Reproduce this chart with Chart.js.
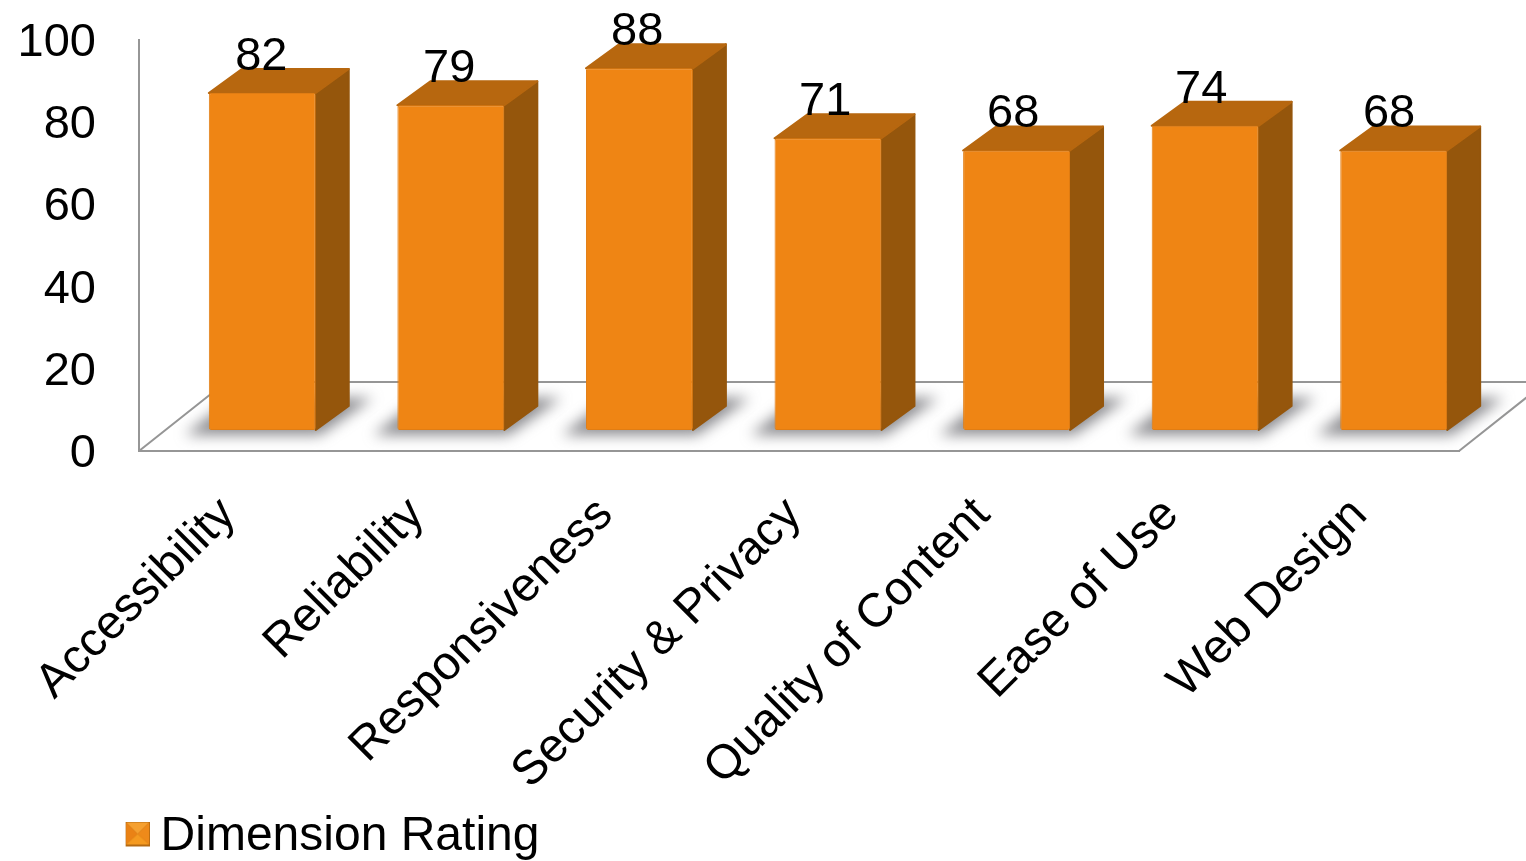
<!DOCTYPE html>
<html><head><meta charset="utf-8">
<style>html,body{margin:0;padding:0;background:#fff;overflow:hidden}canvas{display:block}</style>
<script src="https://cdn.jsdelivr.net/npm/chart.js@4"></script></head>
<body><canvas id="c" width="1526" height="861"></canvas>
<script>
const categories = ["Accessibility","Reliability","Responsiveness","Security & Privacy","Quality of Content","Ease of Use","Web Design"];
const ratings = [82,79,88,71,68,74,68];
const seriesName = "Dimension Rating";
const yTicks = [0,20,40,60,80,100];

const FONT = '"Liberation Sans", Arial, sans-serif';
const SHIFT = {x:29,y:-21};
const DEPTH = {x:33,y:-24};
const FLOOR = {x:87,y:-69};

const swatch = document.createElement('canvas');
swatch.width = 28; swatch.height = 31;
(function(){
  const g = swatch.getContext('2d'), o = 3;
  g.fillStyle = '#b56a12'; g.fillRect(o,0,25,25);
  const tri = (pts,col)=>{g.fillStyle=col;g.beginPath();pts.forEach((p,i)=>i?g.lineTo(o+p[0],p[1]):g.moveTo(o+p[0],p[1]));g.closePath();g.fill();};
  tri([[1,1],[24,1],[12.5,12.5]],'#f5a030');
  tri([[1,1],[1,23],[12.5,12.5]],'#ea8215');
  tri([[24,1],[24,23],[12.5,12.5]],'#ee8a1a');
  tri([[1,23],[24,23],[12.5,12.5]],'#f59a20');
})();

const poly = (ctx,pts,fill,round)=>{
  ctx.beginPath();pts.forEach((p,i)=>i?ctx.lineTo(p[0],p[1]):ctx.moveTo(p[0],p[1]));ctx.closePath();
  ctx.fillStyle=fill;ctx.fill();
  if(round){ctx.strokeStyle=fill;ctx.lineWidth=2;ctx.lineJoin='round';ctx.stroke();}
};

const bars3d = {
  id:'bars3d',
  afterLayout(chart){
    chart.legend.left = 125.6;
    chart.legend.top += 10;
  },
  beforeDatasetsDraw(chart){
    const {ctx,chartArea:a} = chart;
    const els = chart.getDatasetMeta(0).data;
    ctx.save();
    ctx.strokeStyle='#969696'; ctx.lineWidth=2;
    ctx.beginPath();
    ctx.moveTo(a.left,a.bottom); ctx.lineTo(a.left+FLOOR.x,a.bottom+FLOOR.y); ctx.lineTo(1526,a.bottom+FLOOR.y);
    ctx.moveTo(a.right,a.bottom); ctx.lineTo(a.right+FLOOR.x,a.bottom+FLOOR.y);
    ctx.stroke();
    els.forEach(e=>{
      const l=e.x-e.width/2+SHIFT.x, r=e.x+e.width/2+SHIFT.x, b=e.base+SHIFT.y;
      ctx.save();
      ctx.filter='blur(7px)';
      poly(ctx,[[l-24,b+5],[r+4,b+5],[r+DEPTH.x+24,b+DEPTH.y-8],[l+24,b+DEPTH.y-8]],'rgba(100,100,105,0.75)');
      ctx.restore();
    });
    els.forEach(e=>{
      const l=e.x-e.width/2+SHIFT.x, r=e.x+e.width/2+SHIFT.x, b=e.base+SHIFT.y, t=e.y+SHIFT.y;
      poly(ctx,[[r,t],[r+DEPTH.x,t+DEPTH.y],[r+DEPTH.x,b+DEPTH.y],[r,b]],'#95560c',true);
      poly(ctx,[[l,t],[l+DEPTH.x,t+DEPTH.y],[r+DEPTH.x,t+DEPTH.y],[r,t]],'#b7670f',true);
    });
    ctx.restore();
    ctx.save();
    ctx.translate(SHIFT.x,SHIFT.y);
  },
  afterDatasetsDraw(chart){
    const {ctx} = chart;
    ctx.restore();
    const els = chart.getDatasetMeta(0).data;
    ctx.save();
    ctx.font='47px '+FONT; ctx.fillStyle='#000'; ctx.textAlign='center'; ctx.textBaseline='middle';
    els.forEach((e,i)=>ctx.fillText(String(ratings[i]), e.x+SHIFT.x-1-0.6*i, e.y+SHIFT.y-36));
    ctx.restore();
  }
};

const noPad = s=>{s.paddingTop=0;s.paddingBottom=0;s.paddingLeft=0;s.paddingRight=0;};

new Chart(document.getElementById('c'),{
  type:'bar',
  data:{labels:categories,datasets:[{label:seriesName,data:ratings,backgroundColor:'#ef8514',borderColor:'#e17d13',borderWidth:1,barPercentage:0.567,categoryPercentage:1,borderRadius:2,borderSkipped:false}]},
  plugins:[bars3d],
  options:{
    responsive:false,animation:false,
    layout:{padding:{left:0,right:67,top:40,bottom:0}},
    scales:{
      x:{
        grid:{display:false,drawTicks:false},
        border:{display:true,color:'#969696',width:2},
        ticks:{autoSkip:false,minRotation:45,maxRotation:45,padding:36,labelOffset:-5,color:'#000',font:{family:FONT,size:47.6}},
        afterFit(s){s.height=342;noPad(s);}
      },
      y:{
        min:0,max:100,
        afterBuildTicks(s){s.ticks=yTicks.map(v=>({value:v}));},
        grid:{display:false,drawTicks:false},
        border:{display:true,color:'#969696',width:2},
        ticks:{padding:43,labelOffset:3,color:'#000',font:{family:FONT,size:47}},
        afterFit(s){s.width=139;noPad(s);}
      }
    },
    plugins:{
      tooltip:{enabled:false},
      legend:{
        position:'bottom',align:'start',
        labels:{
          padding:10,usePointStyle:true,pointStyleWidth:1,color:'#000',font:{family:FONT,size:48},
          generateLabels(){return [{text:seriesName,pointStyle:swatch,hidden:false,datasetIndex:0,lineWidth:0,fontColor:'#000'}];}
        }
      }
    }
  }
});
</script></body></html>
